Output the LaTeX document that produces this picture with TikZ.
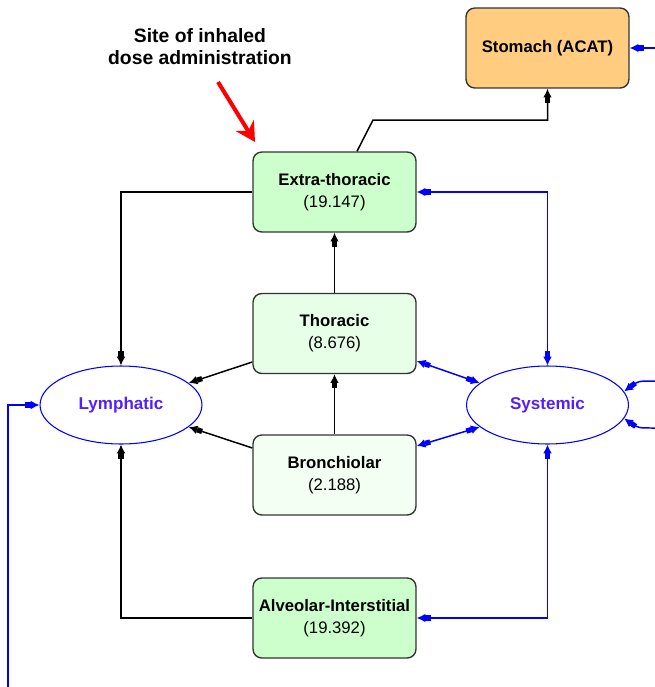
\documentclass[tikz,border=0pt]{standalone}
\usepackage{fontspec}
\setmainfont{Liberation Sans}
\usetikzlibrary{arrows.meta,shapes.geometric}
\definecolor{boxgreen}{RGB}{204,255,204}
\definecolor{thorgreen}{RGB}{230,255,230}
\definecolor{brgreen}{RGB}{242,255,242}
\definecolor{stomach}{RGB}{255,204,128}
\definecolor{poolviolet}{RGB}{85,30,255}
\begin{document}
\begin{tikzpicture}[x=0.02cm,y=-0.02cm,
  comp/.style={draw=black!80,line width=0.8pt,rounded corners=5pt,minimum width=3.26cm,minimum height=1.6cm,align=center,font=\fontsize{9.5}{12.5}\selectfont},
  pool/.style={draw=blue,ellipse,line width=0.6pt,minimum width=3.24cm,minimum height=1.56cm,text=poolviolet,font=\bfseries\fontsize{9.7}{12}\selectfont},
  conn/.style={black,line width=0.85pt},
  flow/.style={blue,line width=0.85pt},
  bx/.tip={Square[length=3pt,width=3pt] Latex[length=5pt,width=5pt]}]
\useasboundingbox (0,0) rectangle (655,687);
\node[comp,fill=stomach] (7) at (547.5,48) {\textbf{Stomach (ACAT)}};
\node[comp,fill=boxgreen] (1) at (334.5,192) {\textbf{Extra-thoracic}\\(19.147)};
\node[comp,fill=thorgreen] (2) at (334.5,333.5) {\textbf{Thoracic}\\(8.676)};
\node[comp,fill=brgreen] (3) at (334.5,475) {\textbf{Bronchiolar}\\(2.188)};
\node[comp,fill=boxgreen] (4) at (334.5,618) {\textbf{Alveolar-Interstitial}\\(19.392)};
\node[pool] (5) at (121,405) {Lymphatic};
\node[pool] (6) at (547.5,405) {Systemic};
\node[align=center,font=\bfseries\fontsize{11}{12.5}\selectfont] (8) at (200,47) {Site of inhaled\\dose administration};

% pointer to the dose site
\coordinate (9) at (218,82);
\coordinate (10) at (255,142);
\path[draw,red,line width=2.3pt,-{Stealth[length=11pt,width=12pt]}] (9) -- (10);

\path[draw,conn,-bx] (1.west) -| (5.north);
\path[draw,conn,-bx] ([yshift=-0.57cm]2.west) -- (5.18);
\path[draw,conn,-bx] ([yshift=0.54cm]3.west) -- (5.342);
\path[draw,conn,-bx] (3.north) -- (2.south);
\path[draw,conn,-bx] (2.north) -- (1.south);
\coordinate (11) at (373,120);
\path[draw,conn,-bx] ([xshift=0.45cm]1.north) -- (11) -| (7.south);
\path[draw,conn,-bx] (4.west) -| (5.south);

% blue exchange with the systemic pool
\path[draw,flow,bx-bx] (6.north) |- (1.east);
\path[draw,flow,bx-bx] ([yshift=-0.55cm]2.east) -- (6.162);
\path[draw,flow,bx-bx] ([yshift=0.58cm]3.east) -- (6.198);
\path[draw,flow,bx-bx] (6.south) |- (4.east);
\coordinate (12) at (8,687);
\path[draw,flow,-bx] (12) |- (5.west);
\coordinate (13) at (655,48);
\path[draw,flow,-bx] (13) -- (7.east);
\coordinate (14) at (655,381);
\coordinate (15) at (655,428);
\path[draw,flow,-bx] (14) .. controls (638,381) .. (6.10);
\path[draw,flow,-bx] (15) .. controls (638,428) .. (6.350);
\end{tikzpicture}
\end{document}
